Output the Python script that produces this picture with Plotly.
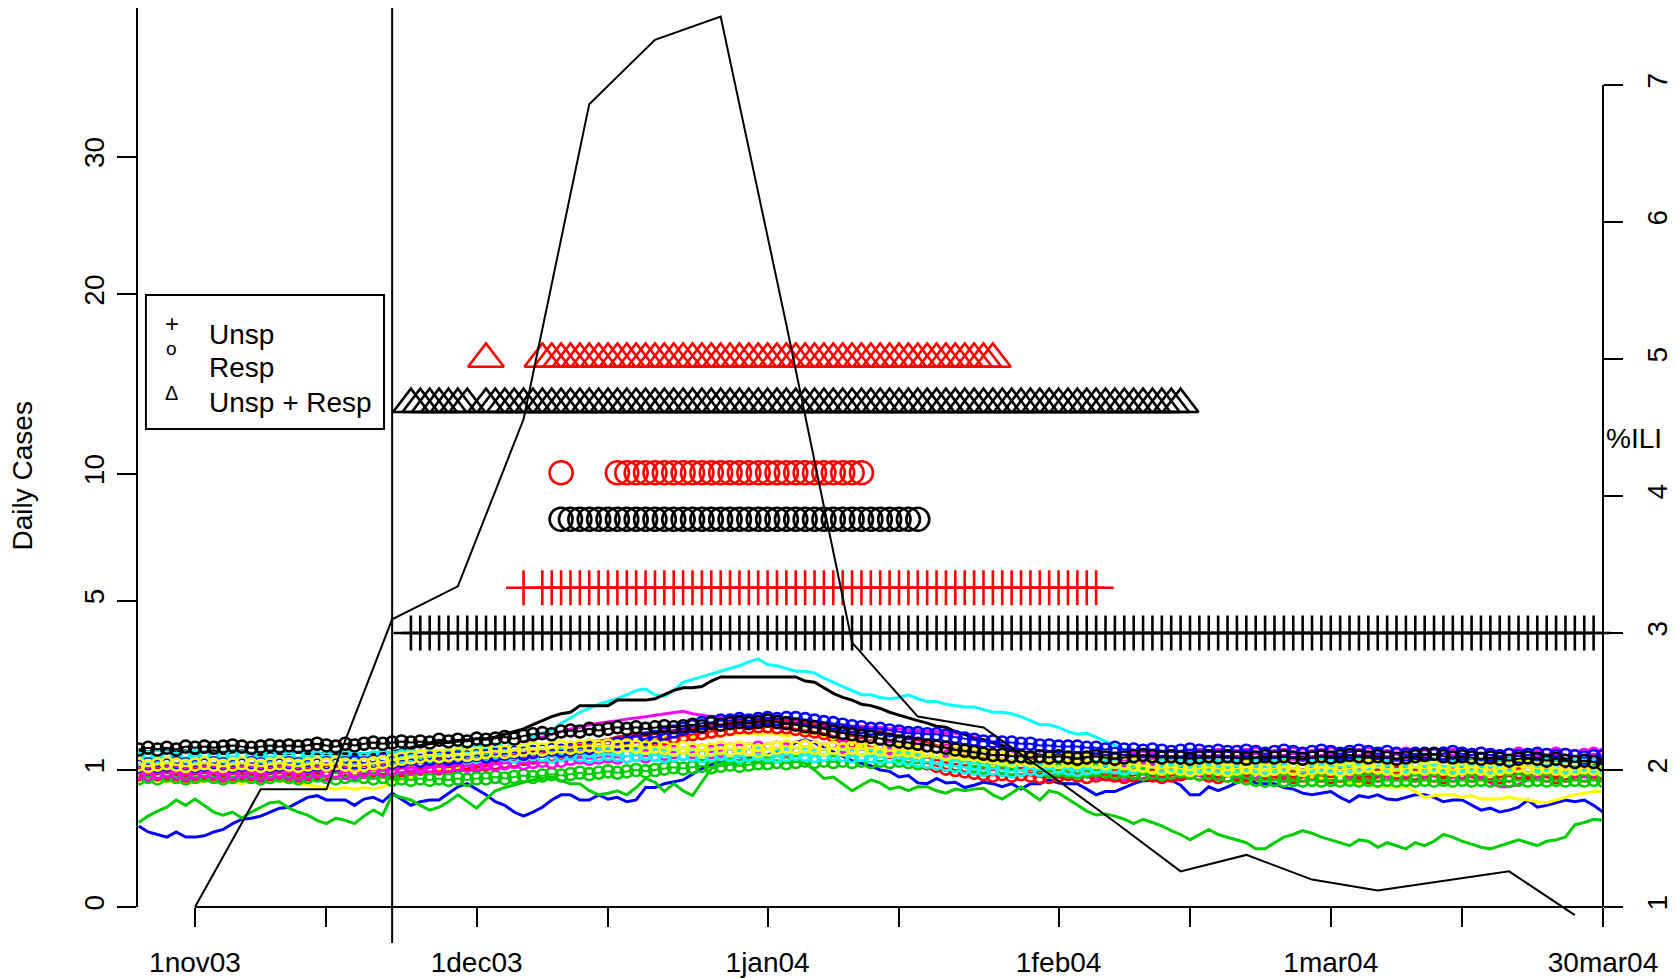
import pandas as pd
import numpy as np
import plotly.graph_objects as go

# ---------------- data ----------------
start = pd.Timestamp("2003-11-01")
day_offsets = list(range(-6, 151))          # 26oct03 .. 30mar04, daily
season_start = "2003-11-22"                 # vertical reference line

# weekly %ILI (right axis), weeks ending 1nov03 .. 27mar04
ili_days = list(range(0, 148, 7))
ili_pct = [1.00, 1.86, 1.86, 3.10, 3.34, 4.56, 6.86, 7.33, 7.50, 5.25, 2.93,
           2.39, 2.31, 1.97, 1.62, 1.26, 1.38, 1.20, 1.12, 1.19, 1.26, 0.94]

# daily cases, unspecified syndrome (lines)
blue_unsp = [
.35,.30,.28,.26,.30,.26,.26,
.27,.30,.32,.37,.41,.42,.44,.48,.52,.53,
.58,.64,.66,.61,.61,.61,.55,.62,.64,.59,
.69,.62,.55,.59,.61,.61,.69,.77,.81,.74,
.67,.59,.55,.48,.44,.48,.53,.61,.67,.67,
.61,.61,.67,.62,.64,.59,.61,.76,.76,.81,
.83,.86,.94,1.02,1.08,1.12,1.14,1.14,1.19,1.21,
1.23,1.28,1.35,1.44,1.49,1.44,1.35,1.28,1.21,1.14,
1.10,1.06,1.00,.98,.90,.92,.82,.81,.88,.82,
.83,.76,.79,.83,.81,.77,.81,.74,.81,.81,
.86,.82,.81,.81,.74,.67,.71,.71,.76,.81,
.85,.86,.86,.86,.79,.67,.67,.77,.72,.77,
.82,.88,.82,.81,.81,.76,.74,.69,.67,.69,
.71,.64,.59,.66,.64,.67,.62,.61,.64,.67,
.67,.64,.59,.61,.61,.55,.50,.52,.48,.50,
.53,.61,.53,.55,.58,.61,.59,.61,.55,.48]

green_unsp = [
.38,.44,.49,.53,.61,.55,.62,
.55,.48,.45,.48,.42,.48,.53,.58,.59,.52,
.48,.45,.40,.37,.42,.40,.37,.44,.50,.45,
.67,.64,.61,.55,.50,.53,.59,.67,.59,.52,
.62,.72,.76,.79,.83,.86,.88,.90,.85,.81,
.81,.72,.67,.69,.72,.67,.76,.88,.83,.71,
.81,.72,.66,.83,1.02,1.10,1.12,1.10,1.14,1.12,
1.14,1.14,1.12,1.14,1.10,1.00,.88,.90,.81,.72,
.79,.86,.82,.74,.77,.72,.77,.77,.72,.69,
.74,.72,.74,.75,.67,.62,.69,.77,.69,.61,
.72,.69,.62,.55,.49,.45,.46,.44,.41,.37,
.41,.38,.35,.31,.28,.24,.28,.32,.28,.26,
.24,.22,.18,.18,.22,.26,.28,.31,.29,.26,
.24,.22,.20,.24,.23,.19,.22,.20,.18,.22,
.20,.23,.28,.26,.23,.21,.19,.18,.20,.22,
.24,.22,.20,.23,.24,.26,.36,.38,.41,.40]

cyan_unsp = [
.86,.85,.86,.90,.92,.90,.94,
.96,1.00,.98,.96,1.00,1.02,1.04,1.00,1.02,1.06,
1.04,1.00,1.02,1.06,1.08,1.04,1.06,1.10,1.08,1.12,
1.14,1.17,1.14,1.19,1.21,1.25,1.28,1.32,1.37,1.39,
1.39,1.42,1.37,1.39,1.44,1.54,1.61,1.66,1.80,1.90,
2.02,2.10,2.19,2.25,2.31,2.40,2.50,2.53,2.40,2.37,
2.50,2.69,2.76,2.82,2.89,2.96,3.03,3.10,3.20,3.28,
3.13,3.10,3.03,2.96,2.96,2.92,2.79,2.69,2.59,2.50,
2.40,2.40,2.34,2.31,2.34,2.40,2.31,2.25,2.25,2.19,
2.16,2.13,2.13,2.07,2.02,2.02,1.99,1.93,1.85,1.77,
1.77,1.72,1.64,1.59,1.61,1.54,1.46,1.39,1.32,1.21,
1.19,1.14,1.10,1.06,1.04,1.00,.98,1.02,1.00,.96,
.98,1.00,1.04,.98,.96,1.00,1.02,.98,.94,.96,
1.00,1.04,1.02,.98,1.00,1.06,1.04,1.00,.98,1.02,
1.06,1.04,1.00,.96,.98,1.02,1.00,.96,.94,.98,
1.00,.96,.98,1.02,1.00,.96,.94,.98,.96,.92]

red_unsp = [
.90,.92,.88,.90,.94,.90,.88,
.90,.92,.90,.88,.92,.94,.90,.88,.90,.92,
.90,.92,.94,.90,.88,.92,.90,.94,.92,.90,
.88,.92,.90,.94,.96,.94,.98,1.00,1.02,1.04,
1.06,1.10,1.12,1.17,1.19,1.21,1.25,1.30,1.32,1.35,
1.39,1.44,1.46,1.49,1.54,1.56,1.59,1.61,1.64,1.64,
1.66,1.69,1.69,1.72,1.74,1.74,1.77,1.80,1.80,1.82,
1.82,1.85,1.85,1.82,1.80,1.80,1.77,1.74,1.72,1.69,
1.69,1.66,1.64,1.59,1.56,1.51,1.49,1.44,1.39,1.35,
1.30,1.25,1.21,1.17,1.12,1.08,1.04,1.00,.96,.94,
.92,.90,.88,.90,.92,.88,.90,.92,.90,.88,
.86,.90,.92,.88,.86,.90,.94,.90,.88,.92,
.90,.86,.88,.92,.90,.88,.86,.90,.92,.88,
.90,.94,.90,.88,.86,.90,.92,.90,.88,.86,
.90,.92,.88,.90,.94,.90,.88,.86,.90,.92,
.88,.90,.92,.90,.88,.86,.90,.92,.90,.88]

magenta_unsp = [
.86,.85,.88,.86,.83,.86,.85,
.88,.86,.85,.88,.86,.83,.85,.88,.86,.85,
.86,.88,.85,.86,.90,.88,.86,.90,.88,.92,
.94,.96,.98,1.00,1.04,1.06,1.10,1.14,1.17,1.21,
1.25,1.30,1.35,1.39,1.44,1.49,1.54,1.59,1.64,1.69,
1.72,1.77,1.80,1.82,1.85,1.88,1.90,1.93,1.96,1.99,
2.02,2.04,1.99,1.96,1.93,1.93,1.90,1.93,1.93,1.90,
1.90,1.88,1.88,1.85,1.85,1.82,1.80,1.77,1.77,1.74,
1.74,1.72,1.72,1.69,1.69,1.66,1.66,1.64,1.64,1.61,
1.61,1.59,1.54,1.49,1.44,1.37,1.30,1.23,1.17,1.10,
1.06,1.02,.98,.94,.90,.88,.86,.85,.86,.85,
.88,.90,.92,.88,.90,.94,.92,.88,.90,.92,
.94,.90,.88,.92,.94,.90,.92,.94,.90,.88,
.92,.94,.90,.92,.94,.92,.90,.88,.92,.94,
.90,.92,.94,.90,.88,.92,.90,.82,.77,.77,
.80,.86,.90,.92,.90,.94,.92,.90,.92,.90]

yellow_unsp = [
.85,.86,.85,.83,.85,.81,.83,
.85,.86,.85,.83,.81,.85,.86,.88,.85,.83,
.81,.79,.77,.76,.74,.76,.74,.76,.74,.77,
.83,.86,.90,.94,.96,1.00,1.02,1.04,1.06,1.08,
1.10,1.12,1.14,1.17,1.19,1.21,1.23,1.25,1.28,1.30,
1.32,1.35,1.37,1.39,1.42,1.44,1.46,1.49,1.51,1.54,
1.54,1.56,1.54,1.51,1.54,1.56,1.59,1.61,1.61,1.59,
1.61,1.59,1.56,1.59,1.61,1.59,1.56,1.51,1.46,1.42,
1.37,1.35,1.32,1.30,1.28,1.25,1.23,1.21,1.19,1.17,
1.14,1.12,1.10,1.08,1.06,1.04,1.02,1.00,1.00,.98,
1.00,.98,1.00,1.02,1.00,.98,1.00,.98,1.00,1.02,
1.00,.98,1.00,1.02,1.00,.98,.96,1.00,.98,1.00,
.98,1.00,.96,.98,1.00,.96,.94,.92,.90,.88,
.86,.85,.83,.81,.79,.77,.77,.76,.77,.71,
.64,.66,.67,.67,.64,.66,.62,.62,.62,.64,
.62,.61,.59,.58,.61,.64,.67,.69,.71,.71]

black_unsp = [
1.30,1.28,1.32,1.30,1.28,1.30,1.25,
1.28,1.30,1.25,1.28,1.30,1.25,1.23,1.28,1.25,1.25,
1.28,1.25,1.25,1.25,1.25,1.25,1.25,1.25,1.25,1.25,
1.28,1.32,1.35,1.39,1.42,1.44,1.44,1.46,1.49,1.51,
1.51,1.54,1.59,1.64,1.69,1.77,1.85,1.93,1.99,2.02,
2.16,2.16,2.16,2.16,2.28,2.28,2.28,2.28,2.31,2.40,
2.50,2.56,2.56,2.59,2.72,2.82,2.82,2.82,2.82,2.82,
2.82,2.82,2.82,2.82,2.72,2.69,2.56,2.43,2.34,2.28,
2.19,2.16,2.10,2.02,1.96,1.90,1.85,1.80,1.74,1.72,
1.64,1.59,1.51,1.49,1.44,1.39,1.32,1.28,1.25,1.23,
1.21,1.23,1.21,1.19,1.21,1.23,1.21,1.19,1.21,1.19,
1.17,1.19,1.21,1.19,1.17,1.19,1.17,1.19,1.21,1.19,
1.21,1.19,1.17,1.19,1.21,1.19,1.17,1.19,1.17,1.19,
1.21,1.19,1.17,1.19,1.21,1.19,1.17,1.14,1.19,1.17,
1.19,1.17,1.14,1.17,1.19,1.17,1.14,1.17,1.19,1.17,
1.14,1.17,1.19,1.21,1.19,1.17,1.14,1.12,1.10,1.08]

# daily cases, respiratory syndrome (circles)
red_resp = [
.94,.92,.94,.96,.94,.92,.94,
.96,.94,.92,.94,.96,.94,.92,.94,.96,.94,
.92,.94,.96,.98,.96,.98,1.00,.98,1.00,1.02,
1.00,1.02,1.04,1.02,1.04,1.06,1.04,1.06,1.08,1.06,
1.08,1.10,1.12,1.14,1.17,1.19,1.21,1.23,1.25,1.28,
1.30,1.32,1.35,1.37,1.39,1.42,1.44,1.46,1.49,1.51,
1.54,1.56,1.59,1.61,1.64,1.66,1.69,1.72,1.72,1.74,
1.74,1.72,1.72,1.69,1.66,1.64,1.61,1.56,1.51,1.46,
1.42,1.37,1.32,1.28,1.23,1.19,1.14,1.10,1.06,1.02,
1.00,.98,.96,.94,.92,.94,.92,.94,.92,.90,
.90,.92,.94,.92,.90,.92,.94,.92,.90,.92,
.94,.92,.90,.92,.94,.96,.94,.92,.90,.92,
.94,.92,.94,.96,.94,.92,.90,.92,.94,.92,
.90,.92,.94,.92,.90,.92,.94,.96,.94,.92,
.94,.92,.90,.92,.94,.92,.94,.92,.90,.92,
.94,.96,.94,.92,.90,.92,.94,.92,.94,.92]

green_resp = [
.88,.90,.88,.92,.90,.88,.90,
.92,.90,.88,.90,.92,.90,.88,.90,.92,.90,
.88,.90,.92,.90,.88,.90,.92,.90,.88,.90,
.86,.88,.86,.88,.86,.88,.86,.88,.86,.88,
.88,.90,.88,.90,.92,.90,.92,.94,.92,.94,
.96,.94,.96,.98,.96,.98,1.00,.98,1.00,1.02,
1.04,1.02,1.04,1.06,1.04,1.06,1.08,1.06,1.08,1.10,
1.10,1.12,1.10,1.12,1.14,1.12,1.14,1.12,1.14,1.12,
1.14,1.12,1.14,1.12,1.14,1.12,1.10,1.12,1.10,1.08,
1.06,1.04,1.06,1.04,1.02,1.04,1.02,1.00,1.02,1.00,
.98,1.00,.98,.96,.98,1.00,.98,.96,.98,.96,
.94,.96,.94,.96,.98,.96,.94,.96,.94,.92,
.90,.88,.86,.85,.86,.85,.86,.85,.86,.85,
.86,.85,.86,.85,.86,.85,.86,.85,.86,.85,
.86,.85,.86,.85,.86,.85,.86,.85,.86,.85,
.86,.85,.86,.85,.86,.85,.86,.85,.86,.85]

magenta_resp = [
.96,.94,.96,.98,.96,.94,.96,
.98,.96,.94,.96,.98,.96,.94,.96,.98,.96,
.94,.96,.98,1.00,.98,.96,.98,1.00,1.02,1.00,
1.02,1.04,1.02,1.04,1.06,1.04,1.06,1.08,1.06,1.08,
1.10,1.08,1.10,1.12,1.10,1.12,1.14,1.12,1.14,1.17,
1.19,1.17,1.19,1.21,1.19,1.21,1.23,1.21,1.23,1.25,
1.28,1.25,1.28,1.30,1.28,1.30,1.32,1.30,1.32,1.35,
1.32,1.35,1.32,1.35,1.37,1.35,1.32,1.35,1.37,1.35,
1.32,1.35,1.32,1.35,1.32,1.30,1.32,1.30,1.28,1.30,
1.28,1.25,1.23,1.21,1.19,1.17,1.14,1.17,1.14,1.12,
1.14,1.12,1.14,1.17,1.14,1.12,1.14,1.17,1.14,1.17,
1.19,1.17,1.19,1.21,1.19,1.21,1.23,1.21,1.23,1.21,
1.21,1.23,1.25,1.23,1.21,1.23,1.25,1.23,1.21,1.23,
1.25,1.23,1.21,1.23,1.25,1.23,1.21,1.23,1.25,1.23,
1.21,1.23,1.25,1.23,1.21,1.23,1.25,1.23,1.21,1.23,
1.25,1.23,1.21,1.23,1.25,1.23,1.21,1.23,1.25,1.23]

cyan_resp = [
1.17,1.19,1.21,1.19,1.17,1.19,1.21,
1.19,1.17,1.19,1.21,1.19,1.17,1.19,1.21,1.19,1.17,
1.19,1.21,1.19,1.17,1.19,1.21,1.19,1.17,1.19,1.21,
1.19,1.21,1.23,1.21,1.19,1.21,1.23,1.21,1.19,1.21,
1.23,1.25,1.23,1.21,1.23,1.25,1.23,1.21,1.23,1.25,
1.23,1.21,1.23,1.25,1.23,1.21,1.23,1.25,1.23,1.21,
1.23,1.25,1.23,1.21,1.23,1.25,1.23,1.21,1.23,1.25,
1.23,1.21,1.23,1.25,1.23,1.21,1.23,1.25,1.23,1.21,
1.23,1.21,1.19,1.21,1.19,1.17,1.14,1.12,1.10,1.08,
1.06,1.04,1.02,1.00,1.02,1.00,.98,1.00,1.02,1.00,
1.02,1.04,1.02,1.00,1.02,1.04,1.06,1.04,1.02,1.04,
1.06,1.04,1.06,1.08,1.06,1.04,1.06,1.08,1.06,1.04,
1.06,1.08,1.06,1.04,1.06,1.08,1.10,1.08,1.06,1.08,
1.06,1.04,1.06,1.08,1.06,1.04,1.06,1.08,1.06,1.04,
1.06,1.08,1.06,1.04,1.06,1.08,1.06,1.04,1.06,1.08,
1.06,1.04,1.06,1.08,1.06,1.04,1.06,1.08,1.06,1.04]

blue_resp = [
1.06,1.08,1.06,1.08,1.10,1.08,1.06,
1.08,1.10,1.08,1.06,1.08,1.10,1.08,1.06,1.08,1.10,
1.08,1.06,1.08,1.10,1.08,1.10,1.12,1.10,1.12,1.14,
1.12,1.14,1.17,1.14,1.17,1.19,1.17,1.19,1.21,1.23,
1.21,1.23,1.25,1.28,1.25,1.28,1.30,1.32,1.30,1.32,
1.35,1.35,1.37,1.39,1.42,1.44,1.46,1.51,1.54,1.59,
1.64,1.69,1.74,1.80,1.82,1.85,1.85,1.88,1.85,1.88,
1.90,1.88,1.90,1.90,1.88,1.85,1.82,1.80,1.77,1.74,
1.72,1.69,1.69,1.66,1.64,1.61,1.61,1.59,1.59,1.56,
1.54,1.51,1.49,1.46,1.46,1.44,1.44,1.42,1.42,1.39,
1.39,1.37,1.37,1.37,1.35,1.35,1.32,1.35,1.32,1.32,
1.30,1.32,1.30,1.28,1.30,1.32,1.30,1.28,1.30,1.28,
1.28,1.30,1.28,1.25,1.28,1.30,1.28,1.25,1.28,1.30,
1.28,1.25,1.28,1.30,1.28,1.25,1.28,1.25,1.23,1.25,
1.25,1.23,1.25,1.28,1.25,1.23,1.25,1.23,1.21,1.23,
1.21,1.23,1.25,1.23,1.21,1.23,1.21,1.19,1.21,1.21]

yellow_resp = [
1.08,1.06,1.08,1.10,1.08,1.06,1.08,
1.10,1.08,1.06,1.08,1.10,1.08,1.06,1.08,1.10,1.08,
1.06,1.08,1.10,1.08,1.10,1.08,1.06,1.08,1.10,1.12,
1.14,1.17,1.19,1.21,1.23,1.21,1.23,1.25,1.23,1.25,
1.28,1.30,1.28,1.30,1.32,1.35,1.32,1.35,1.37,1.35,
1.37,1.39,1.37,1.39,1.37,1.39,1.37,1.35,1.37,1.35,
1.32,1.35,1.32,1.30,1.32,1.35,1.32,1.35,1.32,1.30,
1.32,1.35,1.37,1.35,1.37,1.35,1.32,1.35,1.32,1.35,
1.32,1.35,1.32,1.30,1.32,1.30,1.28,1.30,1.28,1.25,
1.28,1.25,1.23,1.21,1.19,1.17,1.14,1.17,1.14,1.12,
1.14,1.12,1.14,1.12,1.14,1.12,1.10,1.12,1.10,1.08,
1.06,1.04,1.02,1.04,1.02,1.00,1.02,1.04,1.02,1.00,
1.02,1.04,1.02,1.00,1.02,1.04,1.02,1.00,1.02,1.04,
1.02,1.00,1.02,1.04,1.06,1.04,1.02,1.00,1.02,1.04,
1.02,1.04,1.02,1.00,1.02,1.04,1.02,1.00,1.02,1.04,
1.06,1.04,1.02,1.04,1.02,1.00,1.02,1.04,1.02,1.00]

black_resp = [
1.32,1.35,1.32,1.35,1.32,1.37,1.35,
1.37,1.35,1.37,1.39,1.37,1.35,1.37,1.39,1.37,1.39,
1.37,1.39,1.42,1.39,1.37,1.42,1.39,1.42,1.44,1.42,
1.44,1.46,1.44,1.46,1.44,1.49,1.46,1.49,1.46,1.51,
1.49,1.51,1.54,1.51,1.56,1.59,1.61,1.59,1.64,1.66,
1.64,1.69,1.66,1.69,1.72,1.69,1.72,1.69,1.72,1.74,
1.72,1.74,1.77,1.74,1.80,1.77,1.80,1.82,1.80,1.82,
1.85,1.82,1.80,1.77,1.74,1.72,1.69,1.64,1.61,1.59,
1.56,1.54,1.51,1.49,1.46,1.44,1.42,1.39,1.37,1.35,
1.32,1.30,1.28,1.25,1.23,1.23,1.21,1.21,1.19,1.21,
1.19,1.21,1.19,1.17,1.19,1.21,1.19,1.17,1.19,1.21,
1.23,1.21,1.19,1.21,1.19,1.17,1.19,1.21,1.19,1.21,
1.19,1.17,1.19,1.21,1.19,1.21,1.19,1.17,1.19,1.21,
1.19,1.21,1.23,1.21,1.19,1.21,1.19,1.17,1.19,1.21,
1.23,1.25,1.21,1.19,1.21,1.19,1.17,1.19,1.17,1.14,
1.17,1.19,1.17,1.14,1.17,1.14,1.12,1.14,1.12,1.08]

# alert days (offset from 1nov03) and the %ILI-axis level of each alert row
black_unsp_alerts = list(range(23, 150))
red_unsp_alerts = [35] + list(range(37, 97))
black_resp_alerts = list(range(39, 78))
red_resp_alerts = [39] + list(range(45, 72))
black_both_alerts = list(range(23, 30)) + list(range(31, 106))
red_both_alerts = [31] + list(range(37, 86))
alert_rows = [  # (days, color, symbol, size, level on %ILI axis)
    (black_unsp_alerts, "black", "cross-thin-open", 25, 3.0),
    (red_unsp_alerts, "red", "cross-thin-open", 25, 3.33),
    (black_resp_alerts, "black", "circle-open", 23, 3.83),
    (red_resp_alerts, "red", "circle-open", 23, 4.17),
    (black_both_alerts, "black", "triangle-up-open", 31, 4.67),
    (red_both_alerts, "red", "triangle-up-open", 31, 5.0),
]

case_ticks = [0, 1, 5, 10, 20, 30]
ili_ticks = [1, 2, 3, 4, 5, 6, 7]
date_tick_vals = ["2003-11-01", "2003-11-15", "2003-12-01", "2003-12-15", "2004-01-01",
                  "2004-01-15", "2004-02-01", "2004-02-15", "2004-03-01", "2004-03-15",
                  "2004-03-30"]
date_tick_text = ["1nov03", "", "1dec03", "", "1jan04", "", "1feb04", "", "1mar04", "",
                  "30mar04"]

colors = {"black": "#000000", "red": "#FF0000", "green": "#00CD00", "blue": "#0000FF",
          "cyan": "#00FFFF", "magenta": "#FF00FF", "yellow": "#FFFF00"}

unsp = [("blue", blue_unsp), ("green", green_unsp), ("cyan", cyan_unsp), ("red", red_unsp),
        ("magenta", magenta_unsp), ("yellow", yellow_unsp), ("black", black_unsp)]
resp = [("red", red_resp), ("green", green_resp), ("magenta", magenta_resp),
        ("cyan", cyan_resp), ("blue", blue_resp), ("yellow", yellow_resp),
        ("black", black_resp)]

# ---------------- figure ----------------
def to_dates(offsets):
    return [start + pd.Timedelta(days=int(d)) for d in offsets]

dates = to_dates(day_offsets)
Y0, Y1 = -0.263, 6.562  # sqrt(cases) axis range

fig = go.Figure()
for name, vals in unsp:
    fig.add_trace(go.Scatter(x=dates, y=np.sqrt(vals), mode="lines",
                             line=dict(color=colors[name], width=3), showlegend=False))
for name, vals in resp:
    fig.add_trace(go.Scatter(x=dates, y=np.sqrt(vals), mode="lines+markers",
                             line=dict(color=colors[name], width=2),
                             marker=dict(symbol="circle-open", size=12, color=colors[name],
                                         line=dict(width=2.6, color=colors[name])),
                             showlegend=False))

for days, col, sym, size, level in alert_rows:
    fig.add_trace(go.Scatter(x=to_dates(days), y=[level] * len(days), yaxis="y2",
                             mode="markers",
                             marker=dict(symbol=sym, size=size, color=colors[col],
                                         line=dict(width=2.6, color=colors[col])),
                             showlegend=False, cliponaxis=False))

fig.add_trace(go.Scatter(x=to_dates(ili_days), y=ili_pct, yaxis="y2", mode="lines",
                         line=dict(color="black", width=2), showlegend=False))

font = dict(family="Liberation Sans, Arial, sans-serif", size=28, color="black")

fig.update_layout(
    template="none",
    width=1675, height=978,
    margin=dict(l=137, r=72, t=8, b=35, autoexpand=False),
    paper_bgcolor="white", plot_bgcolor="white",
    font=font,
    xaxis=dict(type="date", range=["2003-10-25 19:40", "2004-03-30 00:00"],
               tickvals=date_tick_vals, ticktext=date_tick_text,
               ticks="outside", ticklen=19, tickwidth=2, tickcolor="black",
               showgrid=False, zeroline=False, showline=False, automargin=False,
               anchor="free", position=(0 - Y0) / (Y1 - Y0),
               ticklabelstandoff=11, tickfont=font),
    yaxis=dict(range=[Y0, Y1], tickvals=np.sqrt(case_ticks).tolist(),
               ticktext=[str(v) for v in case_ticks], tickangle=-90,
               ticks="outside", ticklen=19, tickwidth=2, tickcolor="black",
               showgrid=False, zeroline=False, showline=False, automargin=False,
               ticklabelstandoff=2, tickfont=font),
    yaxis2=dict(range=[Y0 + 1, Y1 + 1], overlaying="y", side="right",
                tickvals=ili_ticks, ticktext=[str(v) for v in ili_ticks], tickangle=-90,
                ticks="outside", ticklen=19, tickwidth=2, tickcolor="black",
                showgrid=False, zeroline=False, showline=False, automargin=False,
                ticklabelstandoff=10, tickfont=font),
)

shapes = [
    # axis lines (R style: span of ticks)
    dict(type="line", xref="x", yref="y", x0=date_tick_vals[0], x1=date_tick_vals[-1],
         y0=0, y1=0, line=dict(color="black", width=2)),
    dict(type="line", xref="paper", yref="y", x0=0, x1=0, y0=0, y1=Y1,
         line=dict(color="black", width=2)),
    dict(type="line", xref="paper", yref="y2", x0=1, x1=1, y0=ili_ticks[0], y1=ili_ticks[-1],
         line=dict(color="black", width=2)),
    # season start line
    dict(type="line", xref="x", yref="paper", x0=season_start, x1=season_start, y0=0, y1=1,
         line=dict(color="black", width=2)),
    # legend box
    dict(type="rect", xref="paper", yref="paper", x0=0.0061, x1=0.1685, y0=0.5497, y1=0.6930,
         line=dict(color="black", width=2), fillcolor="white", layer="above"),
]
fig.update_layout(shapes=shapes)

legend_items = [("+", 24, 0.6631, "Unsp", 0.6513),
                ("o", 19, 0.6353, "Resp", 0.6150),
                ("Δ", 20, 0.5882, "Unsp + Resp", 0.5786)]
ann = []
for sym, ssize, sy, label, ty in legend_items:
    ann.append(dict(xref="paper", yref="paper", x=0.0237, y=sy, text=sym, showarrow=False,
                    xanchor="center", yanchor="middle",
                    font=dict(family=font["family"], size=ssize, color="black")))
    ann.append(dict(xref="paper", yref="paper", x=0.0480, y=ty, text=label, showarrow=False,
                    xanchor="left", yanchor="middle", font=font))
ann.append(dict(xref="paper", yref="paper", x=-0.0778, y=0.5, text="Daily Cases",
                textangle=-90, showarrow=False, xanchor="center", yanchor="middle", font=font))
ann.append(dict(xref="paper", yref="paper", x=1.0211, y=0.540, text="%ILI",
                showarrow=False, xanchor="center", yanchor="middle", font=font))
fig.update_layout(annotations=ann)

fig.write_html("out.html", config={"displayModeBar": False},
               post_script="document.body.style.margin='0';document.body.style.overflow='hidden';")
